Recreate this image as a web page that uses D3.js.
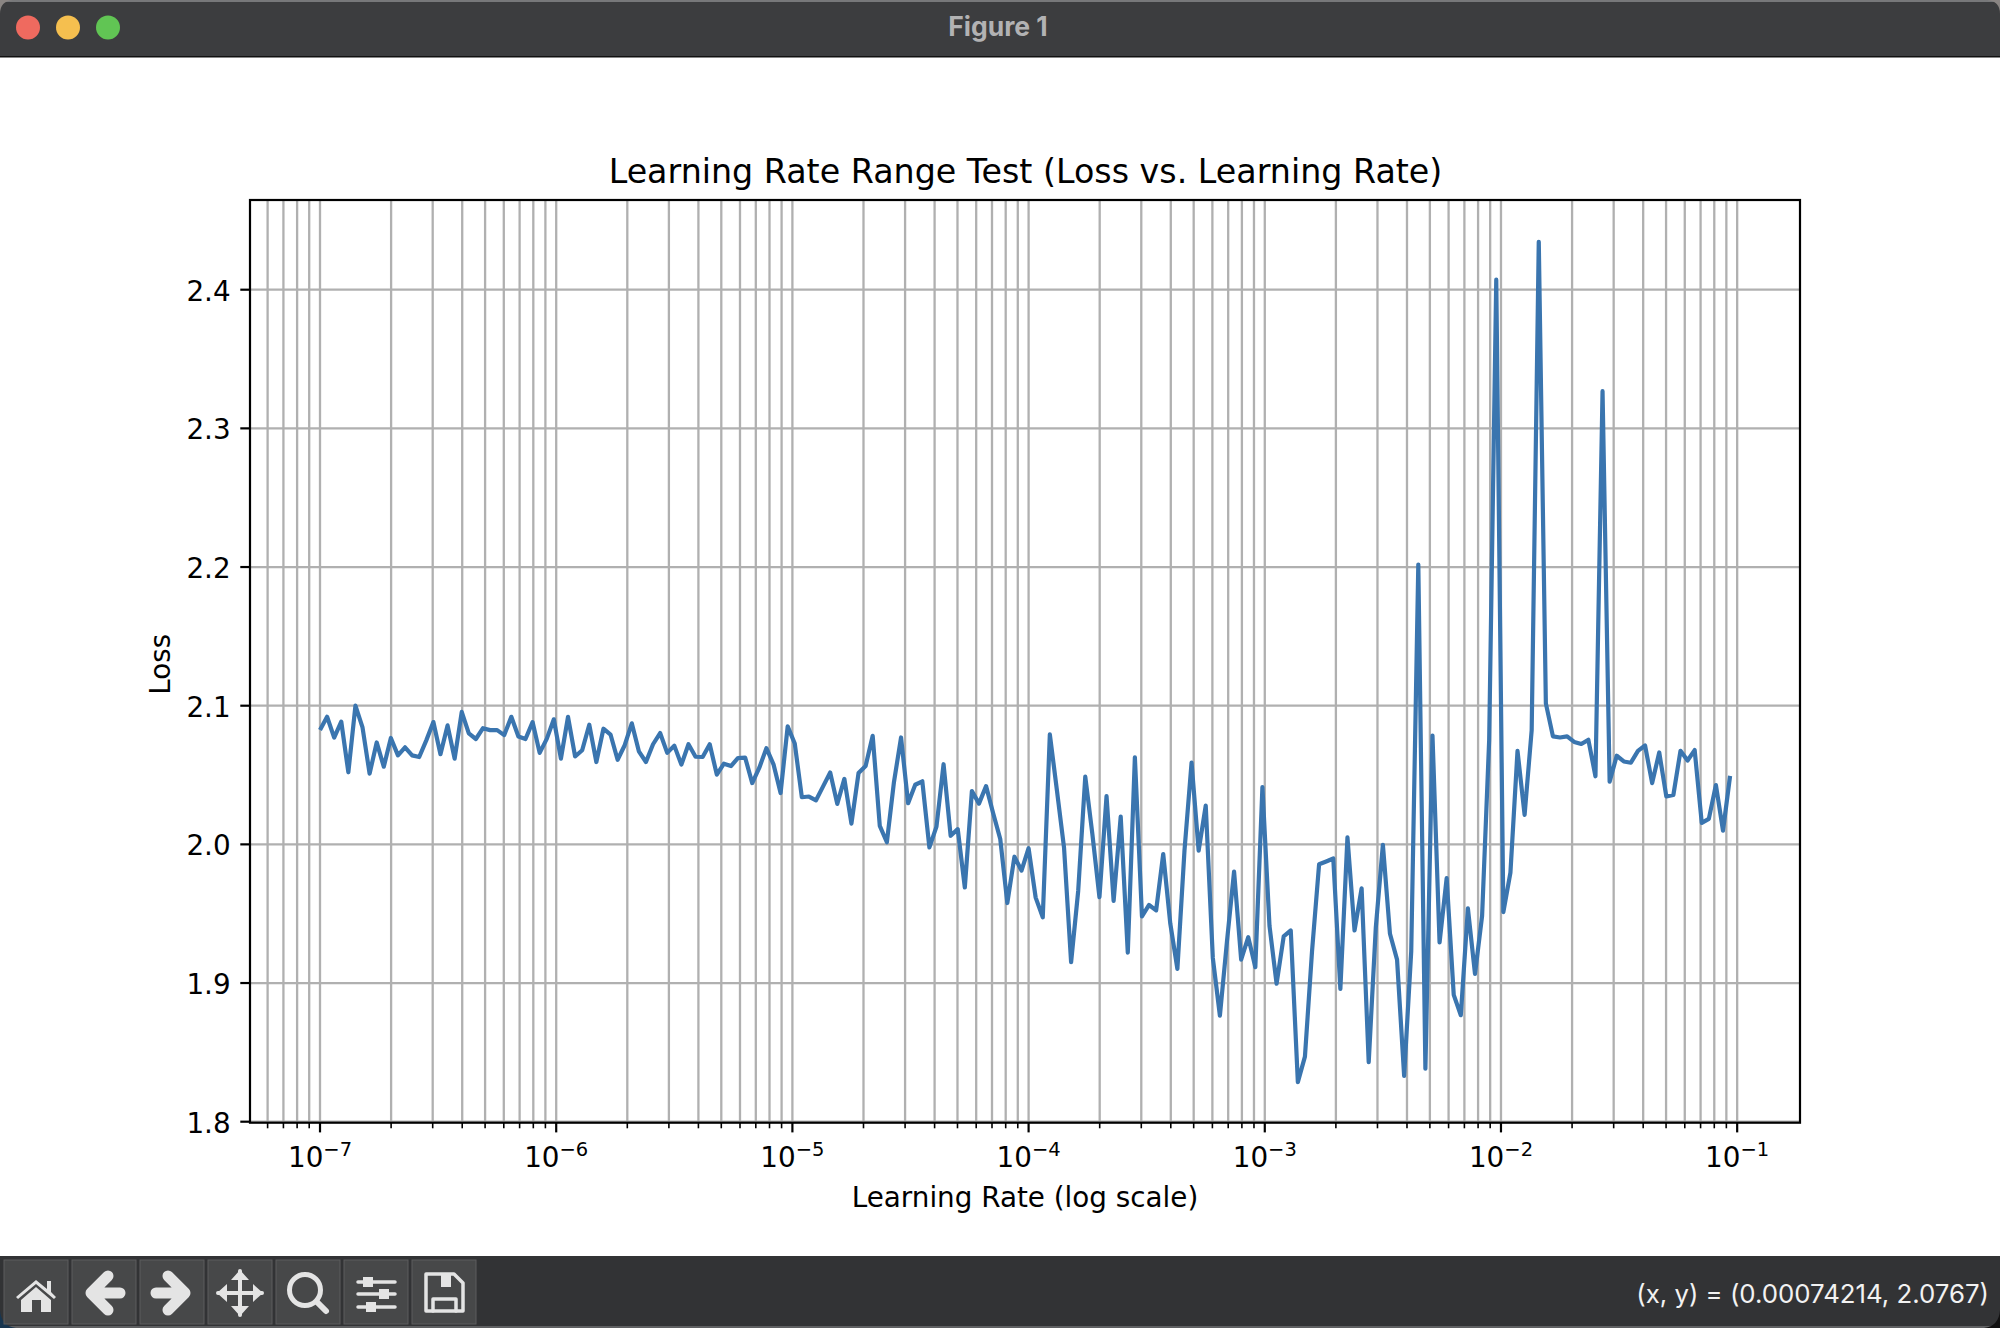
<!DOCTYPE html>
<html>
<head>
<meta charset="utf-8">
<script src="https://cdn.jsdelivr.net/npm/d3@7"></script>
<style>
    html, body { margin: 0; padding: 0; background: #fff; }
    svg { display: block; }
    text { font-family: "DejaVu Sans", sans-serif; fill: #000; }
</style>
</head>
<body>
<div id="chart"></div>
<script>
// log10 of the learning rate at each recorded step
const lrExponents = [
    -7.00, -6.97, -6.94, -6.91, -6.88, -6.85, -6.82, -6.79, -6.76, -6.73,
    -6.70, -6.67, -6.64, -6.61, -6.58, -6.55, -6.52, -6.49, -6.46, -6.43,
    -6.40, -6.37, -6.34, -6.31, -6.28, -6.25, -6.22, -6.19, -6.16, -6.13,
    -6.10, -6.07, -6.04, -6.01, -5.98, -5.95, -5.92, -5.89, -5.86, -5.83,
    -5.80, -5.77, -5.74, -5.71, -5.68, -5.65, -5.62, -5.59, -5.56, -5.53,
    -5.50, -5.47, -5.44, -5.41, -5.38, -5.35, -5.32, -5.29, -5.26, -5.23,
    -5.20, -5.17, -5.14, -5.11, -5.08, -5.05, -5.02, -4.99, -4.96, -4.93,
    -4.90, -4.87, -4.84, -4.81, -4.78, -4.75, -4.72, -4.69, -4.66, -4.63,
    -4.60, -4.57, -4.54, -4.51, -4.48, -4.45, -4.42, -4.39, -4.36, -4.33,
    -4.30, -4.27, -4.24, -4.21, -4.18, -4.15, -4.12, -4.09, -4.06, -4.03,
    -4.00, -3.97, -3.94, -3.91, -3.88, -3.85, -3.82, -3.79, -3.76, -3.73,
    -3.70, -3.67, -3.64, -3.61, -3.58, -3.55, -3.52, -3.49, -3.46, -3.43,
    -3.40, -3.37, -3.34, -3.31, -3.28, -3.25, -3.22, -3.19, -3.16, -3.13,
    -3.10, -3.07, -3.04, -3.01, -2.98, -2.95, -2.92, -2.89, -2.86, -2.83,
    -2.80, -2.77, -2.74, -2.71, -2.68, -2.65, -2.62, -2.59, -2.56, -2.53,
    -2.50, -2.47, -2.44, -2.41, -2.38, -2.35, -2.32, -2.29, -2.26, -2.23,
    -2.20, -2.17, -2.14, -2.11, -2.08, -2.05, -2.02, -1.99, -1.96, -1.93,
    -1.90, -1.87, -1.84, -1.81, -1.78, -1.75, -1.72, -1.69, -1.66, -1.63,
    -1.60, -1.57, -1.54, -1.51, -1.48, -1.45, -1.42, -1.39, -1.36, -1.33,
    -1.30, -1.27, -1.24, -1.21, -1.18, -1.15, -1.12, -1.09, -1.06, -1.03
];

const losses = [
    2.0825, 2.0920, 2.0770, 2.0885, 2.0520, 2.1000, 2.0843, 2.0510, 2.0735, 2.0560,
    2.0767, 2.0642, 2.0700, 2.0642, 2.0630, 2.0750, 2.0882, 2.0650, 2.0858, 2.0618,
    2.0955, 2.0800, 2.0760, 2.0838, 2.0824, 2.0824, 2.0788, 2.0920, 2.0778, 2.0760,
    2.0882, 2.0660, 2.0761, 2.0902, 2.0618, 2.0920, 2.0634, 2.0679, 2.0863, 2.0594,
    2.0834, 2.0792, 2.0610, 2.0715, 2.0873, 2.0671, 2.0594, 2.0722, 2.0803, 2.0660,
    2.0712, 2.0575, 2.0722, 2.0632, 2.0630, 2.0722, 2.0503, 2.0582, 2.0565, 2.0623,
    2.0626, 2.0442, 2.0553, 2.0694, 2.0577, 2.0370, 2.0851, 2.0727, 2.0340, 2.0345,
    2.0318, 2.0418, 2.0518, 2.0292, 2.0472, 2.0150, 2.0514, 2.0565, 2.0783, 2.0133,
    2.0015, 2.0449, 2.0771, 2.0297, 2.0430, 2.0455, 1.9978, 2.0128, 2.0578, 2.0062,
    2.0110, 1.9689, 2.0385, 2.0294, 2.0420, 2.0225, 2.0039, 1.9577, 1.9911, 1.9811,
    1.9972, 1.9616, 1.9474, 2.0793, 2.0389, 1.9978, 1.9150, 1.9664, 2.0488, 2.0075,
    1.9619, 2.0348, 1.9592, 2.0200, 1.9220, 2.0628, 1.9481, 1.9563, 1.9524, 1.9930,
    1.9428, 1.9102, 1.9954, 2.0589, 1.9955, 2.0280, 1.9181, 1.8765, 1.9302, 1.9804,
    1.9169, 1.9331, 1.9114, 2.0413, 1.9411, 1.8995, 1.9336, 1.9379, 1.8285, 1.8469,
    1.9229, 1.9857, 1.9877, 1.9898, 1.8957, 2.0051, 1.9379, 1.9683, 1.8430, 1.9399,
    1.9997, 1.9355, 1.9169, 1.8331, 1.9229, 2.2018, 1.8382, 2.0785, 1.9293, 1.9756,
    1.8915, 1.8768, 1.9538, 1.9066, 1.9483, 2.0751, 2.4072, 1.9512, 1.9797, 2.0674,
    2.0213, 2.0824, 2.4345, 2.1017, 2.0779, 2.0771, 2.0779, 2.0739, 2.0724, 2.0754,
    2.0491, 2.3268, 2.0452, 2.0639, 2.0598, 2.0589, 2.0674, 2.0713, 2.0442, 2.0663,
    2.0346, 2.0357, 2.0675, 2.0605, 2.0680, 2.0155, 2.0184, 2.0428, 2.0099, 2.0494
];

const xMajorTicks = [1e-7, 1e-6, 1e-5, 1e-4, 1e-3, 1e-2, 1e-1];
const xTickPowers = ["\u22127", "\u22126", "\u22125", "\u22124", "\u22123", "\u22122", "\u22121"];
const yTicks = [1.8, 1.9, 2.0, 2.1, 2.2, 2.3, 2.4];

const margin = {top: 200, right: 200, bottom: 205.3, left: 250};
const width = 2000, height = 1328;
const plotW = width - margin.left - margin.right;
const plotH = height - margin.top - margin.bottom;

const svg = d3.select("#chart").append("svg")
    .attr("width", width)
    .attr("height", height);

//window title bar
const chrome = svg.append("g");
chrome.append("rect").attr("width", width).attr("height", 57).attr("fill", "#3c3d3f");
chrome.append("rect").attr("width", width).attr("height", 2).attr("fill", "#77787a");
chrome.append("rect").attr("y", 56).attr("width", width).attr("height", 1.5).attr("fill", "#111");
chrome.append("path").attr("d", "M0 0 H13 Q0 1 0 14 Z").attr("fill", "#8a8583");
chrome.append("path").attr("d", "M2000 0 H1987 Q2000 1 2000 14 Z").attr("fill", "#8a8583");
chrome.selectAll("circle")
    .data([[28, "#ef6a5f"], [68, "#f5bf4f"], [108, "#61c554"]])
    .enter().append("circle")
    .attr("cx", d => d[0])
    .attr("cy", 27.5)
    .attr("r", 12)
    .attr("fill", d => d[1]);
chrome.append("text")
    .attr("x", 998).attr("y", 36)
    .attr("text-anchor", "middle")
    .style("font-family", "Inter")
    .style("font-weight", 700)
    .style("font-size", "26.5px")
    .style("fill", "#b2b2b3")
    .text("Figure 1");

//scales
const x = d3.scaleLog()
    .domain([Math.pow(10, -7.2964), Math.pow(10, -0.7340)])
    .range([margin.left, margin.left + plotW]);
const y = d3.scaleLinear()
    .domain([1.79928, 2.46469])
    .range([margin.top + plotH, margin.top]);

const lrs = lrExponents.map(e => Math.pow(10, e));
const allXTicks = x.ticks();
const xMinorTicks = allXTicks.filter(t => !xMajorTicks.some(m => Math.abs(t / m - 1) < 1e-6));

//grid, for both major and minor ticks
const xGrid = svg.append("g")
    .attr("transform", "translate(0," + (margin.top + plotH) + ")")
    .call(d3.axisBottom(x).tickValues(allXTicks).tickSize(-plotH).tickFormat("").offset(0));
const yGrid = svg.append("g")
    .attr("transform", "translate(" + margin.left + ",0)")
    .call(d3.axisLeft(y).tickValues(yTicks).tickSize(-plotW).tickFormat("").offset(0));
[xGrid, yGrid].forEach(function (g) {
    g.select(".domain").remove();
    g.selectAll("line").attr("stroke", "#b0b0b0").attr("stroke-width", 2.3);
});

//the loss curve
const line = d3.line()
    .x((d, i) => x(lrs[i]))
    .y(d => y(d));
svg.append("path")
    .datum(losses)
    .attr("d", line)
    .attr("fill", "none")
    .attr("stroke", "#3a75af")
    .attr("stroke-width", 4.2)
    .attr("stroke-linejoin", "round");

//spines
svg.append("rect")
    .attr("x", margin.left)
    .attr("y", margin.top)
    .attr("width", plotW)
    .attr("height", plotH)
    .attr("fill", "none")
    .attr("stroke", "#000")
    .attr("stroke-width", 2.2);

//tick marks
const xMinorAxis = svg.append("g")
    .attr("transform", "translate(0," + (margin.top + plotH) + ")")
    .call(d3.axisBottom(x).tickValues(xMinorTicks).tickSize(5.6).tickFormat("").offset(0));
const xMajorAxis = svg.append("g")
    .attr("transform", "translate(0," + (margin.top + plotH) + ")")
    .call(d3.axisBottom(x).tickValues(xMajorTicks).tickSize(9.7).tickFormat("").offset(0));
const yAxis = svg.append("g")
    .attr("transform", "translate(" + margin.left + ",0)")
    .call(d3.axisLeft(y).tickValues(yTicks).tickSize(9.7).tickPadding(9.7).tickFormat(d3.format(".1f")).offset(0));
[xMinorAxis, xMajorAxis, yAxis].forEach(function (g) {
    g.select(".domain").remove();
    g.selectAll("line").attr("stroke", "#000").attr("stroke-width", 2.2);
});
xMinorAxis.selectAll("line").attr("stroke-width", 1.6);
yAxis.selectAll("text")
    .style("font-family", "'DejaVu Sans'")
    .style("font-size", "27.8px")
    .attr("dy", "0.39em");

//x tick labels are 10 with a raised power
const xLabels = xMajorAxis.selectAll(".tick").select("text")
    .attr("y", 44)
    .attr("dy", 0)
    .style("font-family", "'DejaVu Sans'")
    .style("font-size", "27.8px");
xLabels.text(null);
xLabels.append("tspan").text("10");
xLabels.append("tspan")
    .attr("dy", -11)
    .style("font-size", "19.5px")
    .text((d, i) => xTickPowers[i]);

//titles
svg.append("text")
    .attr("x", margin.left + plotW / 2 + 0.5)
    .attr("y", 183)
    .attr("text-anchor", "middle")
    .style("font-size", "33.3px")
    .text("Learning Rate Range Test (Loss vs. Learning Rate)");
svg.append("text")
    .attr("x", margin.left + plotW / 2)
    .attr("y", 1206.5)
    .attr("text-anchor", "middle")
    .style("font-size", "27.8px")
    .text("Learning Rate (log scale)");
svg.append("text")
    .attr("transform", "translate(170," + (margin.top + plotH / 2 + 3) + ") rotate(-90)")
    .attr("text-anchor", "middle")
    .style("font-size", "27.8px")
    .text("Loss");

//toolbar at the bottom of the window
const bar = svg.append("g");
bar.append("rect").attr("y", 1256).attr("width", width).attr("height", 72).attr("fill", "#323335");
bar.append("rect").attr("y", 1326).attr("width", width).attr("height", 2).attr("fill", "#5f6062");
bar.append("path").attr("d", "M0 1328 H16 Q1 1326 0 1310 Z").attr("fill", "#17354f");
bar.append("path").attr("d", "M2000 1328 H1984 Q1999 1326 2000 1310 Z").attr("fill", "#111");
bar.selectAll(".btn")
    .data([4, 72, 140, 208, 276, 344, 412])
    .enter().append("rect")
    .attr("class", "btn")
    .attr("x", d => d)
    .attr("y", 1260)
    .attr("width", 64)
    .attr("height", 64)
    .attr("fill", "#474849")
    .attr("stroke", "#5c5d5e")
    .attr("stroke-width", 1);

const iconFill = "#e4e4e4";
function strokePath(d, w) {
    bar.append("path").attr("d", d).attr("fill", "none").attr("stroke", iconFill)
        .attr("stroke-width", w).attr("stroke-linecap", "round").attr("stroke-linejoin", "round");
}
function fillPath(d) {
    bar.append("path").attr("d", d).attr("fill", iconFill).attr("fill-rule", "evenodd");
}
//home
fillPath("M36 1280 L47 1289 L47 1281 L51 1281 L51 1292 L56 1297 L54 1299 L36 1284 L18 1299 L16 1297 Z");
fillPath("M36 1287 L51 1300 L51 1312 L41 1312 L41 1300 L32 1300 L32 1312 L21 1312 L21 1300 Z");
//back, forward
strokePath("M120 1293 L91 1293 M108 1276 L91 1293 L108 1310", 11);
strokePath("M156 1293 L185 1293 M168 1276 L185 1293 L168 1310", 11);
//pan
strokePath("M218 1293 L262 1293 M240 1271 L240 1315", 4);
fillPath("M217 1293 L227 1284 L227 1302 Z M263 1293 L253 1284 L253 1302 Z M240 1270 L231 1280 L249 1280 Z M240 1316 L231 1306 L249 1306 Z");
//zoom
bar.append("circle").attr("cx", 305).attr("cy", 1290).attr("r", 15.5)
    .attr("fill", "none").attr("stroke", iconFill).attr("stroke-width", 5);
strokePath("M317 1302 L326 1311", 6);
//configure
strokePath("M358 1282 L395 1282 M358 1294 L395 1294 M358 1307 L395 1307", 3.5);
fillPath("M363 1277 h10 v10 h-10 Z M379 1289 h10 v10 h-10 Z M366 1302 h10 v10 h-10 Z");
//save
strokePath("M426 1274 L454 1274 L463 1283 L463 1311 L426 1311 Z", 3.5);
strokePath("M433 1311 L433 1299 L456 1299 L456 1311", 3.5);
fillPath("M441 1275 h10 v12 h-10 Z");
bar.append("text")
    .attr("x", 1989).attr("y", 1303)
    .attr("text-anchor", "end")
    .style("font-family", "Inter")
    .style("font-size", "25.8px")
    .style("fill", "#f2f2f2")
    .text("(x, y) = (0.00074214, 2.0767)");
</script>
</body>
</html>
